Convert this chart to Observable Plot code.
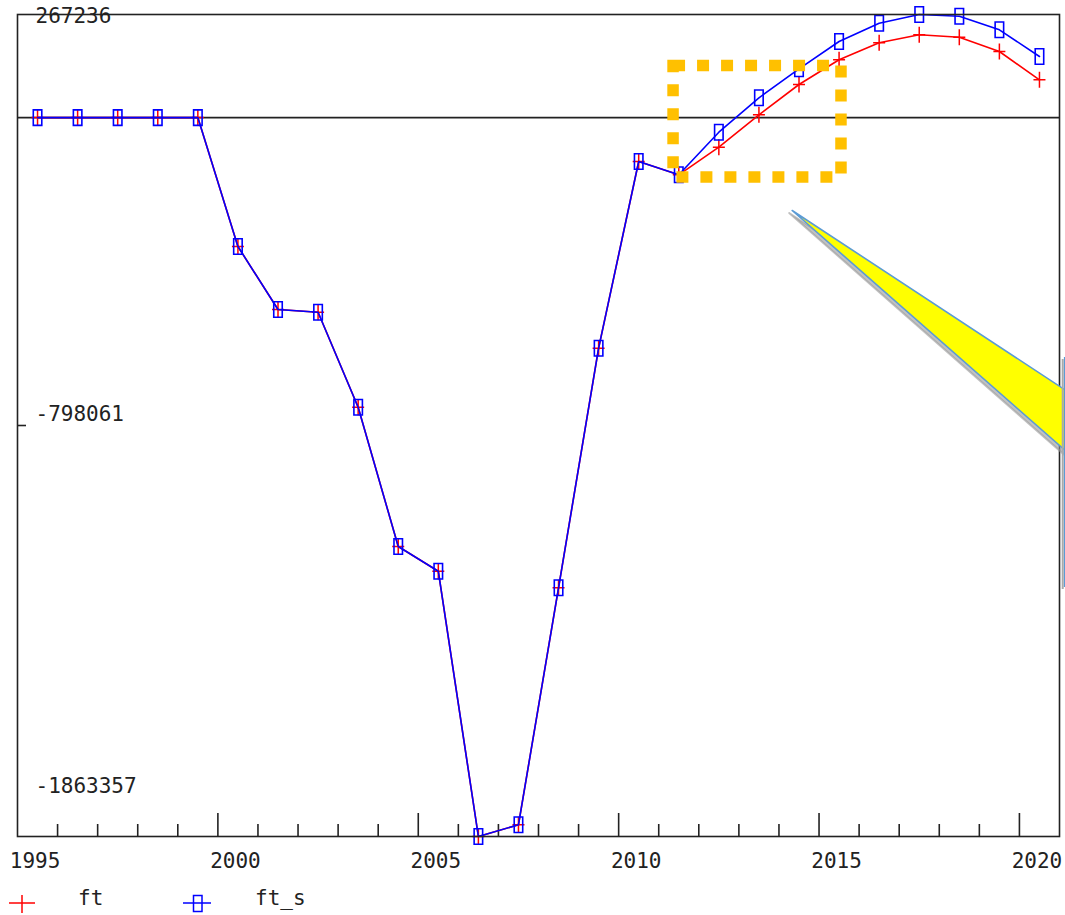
<!DOCTYPE html>
<html>
<head>
<meta charset="utf-8">
<script src="https://cdn.jsdelivr.net/npm/d3@7"></script>
<script src="https://cdn.jsdelivr.net/npm/@observablehq/plot@0.6"></script>
<style>
html, body { margin: 0; padding: 0; background: #fff; overflow: hidden; }
#chart svg, #legend svg { display: block; }
</style>
</head>
<body>
<div id="chart"></div>
<div id="legend"></div>
<script>
// ---- data ----
const years = [1995,1996,1997,1998,1999,2000,2001,2002,2003,2004,2005,2006,2007,2008,2009,2010,2011,2012,2013,2014,2015,2016,2017,2018,2019,2020];
const ft   = [0,0,0,0,0,-334108,-497404,-504402,-750642,-1111708,-1175730,-1863357,-1833062,-1218764,-597714,-113788,-148262,-76722,7258,85796,149818,193882,214618,208398,171332,97978];
const ftS  = [0,0,0,0,0,-334108,-497404,-504402,-750642,-1111708,-1175730,-1863357,-1833062,-1218764,-597714,-113788,-148262,-37842,51322,126490,197252,244686,267236,262830,227578,158372];
const seriesNames = ["ft", "ft_s"];
const yTickLabels = [267236, -798061, -1863357];
const xTickLabels = [1995, 2000, 2005, 2010, 2015, 2020];
// annotation shapes (data units)
const highlightBox = [{x1: 2010.87, x2: 2015.06, y1: -155260, y2: 133748}];
const calloutWedge = [
  {x: 2020.70, y: -710000},
  {x: 2013.83, y: -240796},
  {x: 2020.70, y: -868000}
];
const calloutBoxEdge = [{x: 2020.63, y1: -621820, y2: -1218000}];

// ---- scales setup ----
const W = 1065, H = 880;
const mTop = 14, mLeft = 17, mRight = 6, mBottom = 44;
const innerW = W - mLeft - mRight, innerH = H - mTop - mBottom;
const minorTicks = d3.range(1995.5, 2020.5, 1).filter(t => (t + 0.5) % 5 !== 0);
const majorTicks = d3.range(1999.5, 2020.5, 5);

const plusSymbol = { draw(ctx) { ctx.moveTo(-6, 0); ctx.lineTo(6, 0); ctx.moveTo(0, -8); ctx.lineTo(0, 8); } };
const boxSymbol  = { draw(ctx) { ctx.rect(-4.25, -7.75, 8.5, 15.5); } };

const axisColor = "#222";
const font = "'DejaVu Sans Mono', monospace";

const plot = Plot.plot({
  width: W, height: H,
  marginTop: mTop, marginLeft: mLeft, marginRight: mRight, marginBottom: mBottom,
  x: { domain: [1994.5, 2020.5], axis: null },
  y: { domain: [-1863357, 267236], axis: null },
  style: { fontFamily: font, fontSize: "21px", color: "#222", background: "white" },
  marks: [
    Plot.ruleY([0], { stroke: axisColor, strokeWidth: 1.6 }),
    Plot.tickX(minorTicks, { x: d => d, stroke: axisColor, strokeWidth: 1.6, insetTop: innerH - 12 }),
    Plot.tickX(majorTicks, { x: d => d, stroke: axisColor, strokeWidth: 1.6, insetTop: innerH - 23 }),
    Plot.tickY([yTickLabels[1]], { y: d => d, stroke: axisColor, strokeWidth: 1.6, insetRight: innerW - 9 }),
    Plot.line(years, { x: d => d, y: (d, i) => ft[i], stroke: "#ff0000", strokeWidth: 1.6 }),
    Plot.dot(years, { x: d => d, y: (d, i) => ft[i], symbol: plusSymbol, r: 4, stroke: "#ff0000", strokeWidth: 1.5, fill: "none" }),
    Plot.line(years, { x: d => d, y: (d, i) => ftS[i], stroke: "#0000ff", strokeWidth: 1.6 }),
    Plot.dot(years, { x: d => d, y: (d, i) => ftS[i], symbol: boxSymbol, r: 4, stroke: "#0000ff", strokeWidth: 1.6, fill: "none" }),
    Plot.frame({ stroke: axisColor, strokeWidth: 1.6 }),
    Plot.rect(highlightBox, { x1: "x1", x2: "x2", y1: "y1", y2: "y2", fill: "none", stroke: "#FFC000", strokeWidth: 11.5, strokeDasharray: "12 12" }),
    // callout shadow + wedge
    Plot.line(calloutWedge, { x: "x", y: "y", fill: "#9a9a9a", fillOpacity: 0.6, stroke: "#9a9a9a", strokeOpacity: 0.6, strokeWidth: 2, dx: -3, dy: 2.5 }),
    Plot.line(calloutWedge, { x: "x", y: "y", fill: "#ffff00", stroke: "#5B9BD5", strokeWidth: 1.6 }),
    Plot.ruleX(calloutBoxEdge, { x: "x", y1: "y1", y2: "y2", stroke: "#aaaaaa", strokeWidth: 2, dx: -2, dy: 2 }),
    Plot.ruleX(calloutBoxEdge, { x: "x", y1: "y1", y2: "y2", stroke: "#5B9BD5", strokeWidth: 1.6 }),
    // tick labels
    Plot.text(xTickLabels, { x: d => d, frameAnchor: "bottom", dy: 25, dx: -2.5, lineAnchor: "middle", text: d => String(d), fill: "#222" }),
    Plot.text([yTickLabels[0]], { y: d => d, frameAnchor: "left", textAnchor: "start", dx: 18, dy: 1.5, lineAnchor: "middle", text: d => String(d), fill: "#222" }),
    Plot.text([yTickLabels[1]], { y: d => d, frameAnchor: "left", textAnchor: "start", dx: 18, dy: -11, lineAnchor: "middle", text: d => String(d), fill: "#222" }),
    Plot.text([yTickLabels[2]], { y: d => d, frameAnchor: "left", textAnchor: "start", dx: 18, dy: -50, lineAnchor: "middle", text: d => String(d), fill: "#222" })
  ]
});
document.getElementById("chart").appendChild(plot);

// ---- legend ----
const leg = d3.create("svg").attr("width", W).attr("height", 35)
  .style("font-family", font).style("font-size", "21px");
// ft
leg.append("line").attr("x1", 9).attr("x2", 35).attr("y1", 23).attr("y2", 23).attr("stroke", "#ff0000").attr("stroke-width", 1.5);
leg.append("line").attr("x1", 22).attr("x2", 22).attr("y1", 15).attr("y2", 33).attr("stroke", "#ff0000").attr("stroke-width", 1.5);
leg.append("text").attr("x", 78).attr("y", 25).attr("fill", "#222").text(seriesNames[0]);
// ft_s
leg.append("line").attr("x1", 183).attr("x2", 211).attr("y1", 23).attr("y2", 23).attr("stroke", "#0000ff").attr("stroke-width", 1.5);
leg.append("rect").attr("x", 193.5).attr("y", 15.5).attr("width", 8.5).attr("height", 16).attr("fill", "none").attr("stroke", "#0000ff").attr("stroke-width", 1.5);
leg.append("text").attr("x", 255).attr("y", 25).attr("fill", "#222").text(seriesNames[1]);
document.getElementById("legend").appendChild(leg.node());
</script>
</body>
</html>
